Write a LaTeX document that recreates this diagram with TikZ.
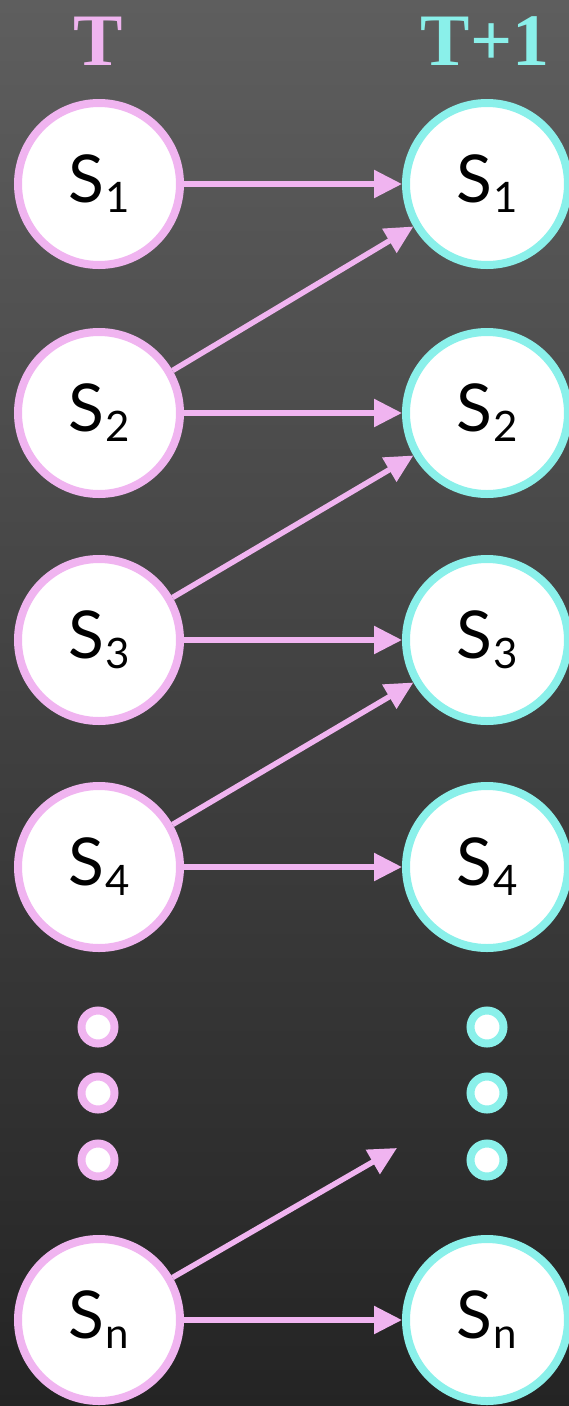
\documentclass[tikz,border=0pt]{standalone}
\usepackage{fontspec}
\setmainfont{Lato}
\newfontfamily\titlefont{Liberation Serif}
\usetikzlibrary{arrows.meta}

\definecolor{bgtop}{RGB}{94,94,94}
\definecolor{bgbot}{RGB}{36,36,36}
\definecolor{pinkc}{RGB}{240,180,240}
\definecolor{cyanc}{RGB}{138,240,234}

% state label: S with a lowered index
\newcommand{\stlabel}[1]{S\kern1pt\raisebox{-10pt}{\fontsize{42}{42}\selectfont #1}}

\tikzset{
  statebox/.style={circle, draw, fill=white, line width=8pt, minimum size=162pt,
    inner sep=0pt, font=\fontsize{66}{66}\selectfont, text=black},
  nowstate/.style={statebox, draw=pinkc},
  nextstate/.style={statebox, draw=cyanc},
  dotbox/.style={circle, draw, fill=white, line width=8pt, minimum size=33pt, inner sep=0pt},
  nowdot/.style={dotbox, draw=pinkc},
  nextdot/.style={dotbox, draw=cyanc},
  trans/.style={draw=pinkc, line width=5.5pt,
    -{Triangle[length=28pt, width=27pt, fill=pinkc]}},
  heading/.style={font=\titlefont\bfseries\fontsize{74}{74}\selectfont, anchor=base}
}

\begin{document}
\begin{tikzpicture}[x=1pt, y=-1pt]
  \useasboundingbox (0,0) rectangle (569,1406);
  \shade[top color=bgtop, bottom color=bgbot] (0,0) rectangle (569,1406);

  % column headings
  \node[heading, text=pinkc] (hT) at (98,65) {T};
  \node[heading, text=cyanc] (hT1) at (485,65) {T+1};

  % states at time T
  \node[nowstate] (L1) at (99,184) {\stlabel{1}};
  \node[nowstate] (L2) at (99,413) {\stlabel{2}};
  \node[nowstate] (L3) at (99,640) {\stlabel{3}};
  \node[nowstate] (L4) at (99,867) {\stlabel{4}};
  \node[nowstate] (Ln) at (99,1320) {\stlabel{n}};

  % states at time T+1
  \node[nextstate] (R1) at (487,184) {\stlabel{1}};
  \node[nextstate] (R2) at (487,413) {\stlabel{2}};
  \node[nextstate] (R3) at (487,640) {\stlabel{3}};
  \node[nextstate] (R4) at (487,867) {\stlabel{4}};
  \node[nextstate] (Rn) at (487,1320) {\stlabel{n}};

  % ellipsis dots
  \node[nowdot] (ld1) at (98,1027) {};
  \node[nowdot] (ld2) at (98,1093) {};
  \node[nowdot] (ld3) at (98,1160) {};
  \node[nextdot] (rd1) at (487,1027) {};
  \node[nextdot] (rd2) at (487,1093) {};
  \node[nextdot] (rd3) at (487,1160) {};

  % open end of the last upward transition
  \coordinate (up) at (397,1148);

  % transitions: stay in the same state
  \draw[trans] (L1.east) -- (R1.west);
  \draw[trans] (L2.east) -- (R2.west);
  \draw[trans] (L3.east) -- (R3.west);
  \draw[trans] (L4.east) -- (R4.west);
  \draw[trans] (Ln.east) -- (Rn.west);

  % transitions: move up one state
  \draw[trans] (L2.30) -- (R1.210);
  \draw[trans] (L3.30) -- (R2.210);
  \draw[trans] (L4.30) -- (R3.210);
  \draw[trans] (Ln.30) -- (up);
\end{tikzpicture}
\end{document}
